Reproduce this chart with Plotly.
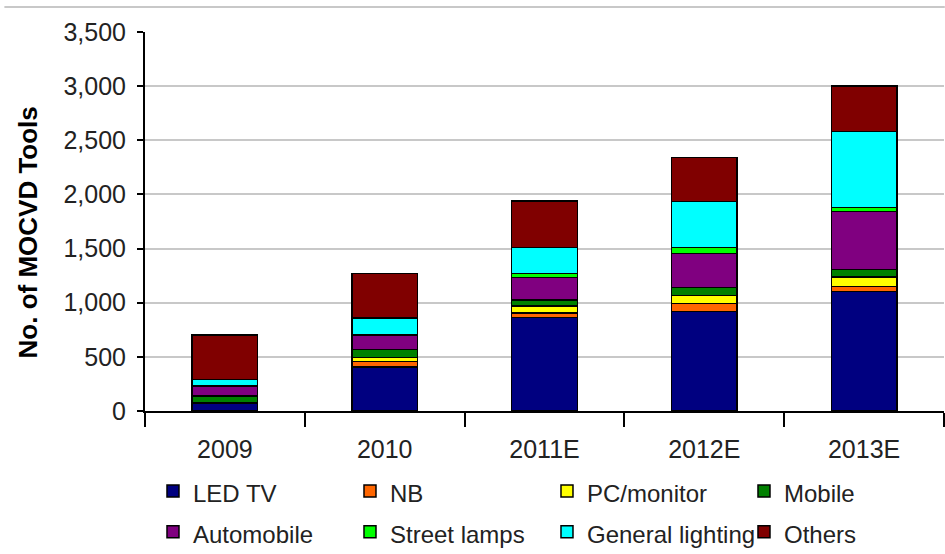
import plotly.graph_objects as go

categories = ["2009", "2010", "2011E", "2012E", "2013E"]

led_tv = [75, 405, 865, 920, 1105]
nb = [0, 50, 40, 74, 43]
pc_monitor = [0, 40, 67, 71, 89]
mobile = [65, 75, 53, 77, 71]
automobile = [90, 130, 209, 314, 536]
street_lamps = [0, 0, 37, 55, 36]
general_lighting = [60, 160, 237, 422, 699]
others = [410, 410, 431, 409, 421]

series_names = ["LED TV", "NB", "PC/monitor", "Mobile",
                "Automobile", "Street lamps", "General lighting", "Others"]
series_values = [led_tv, nb, pc_monitor, mobile,
                 automobile, street_lamps, general_lighting, others]
series_colors = ["#000080", "#FF6600", "#FFFF00", "#008000",
                 "#800080", "#00FF00", "#00FFFF", "#800000"]

y_ticks = [0, 500, 1000, 1500, 2000, 2500, 3000, 3500]

FONT = "Liberation Sans"

fig = go.Figure()
for name, vals, col in zip(series_names, series_values, series_colors):
    fig.add_trace(go.Bar(
        x=categories, y=vals,
        name="<span style='font-size:24px'>" + name + "</span>",
        marker=dict(color=col, line=dict(color="#000000", width=1.5)),
    ))

fig.update_layout(
    barmode="stack",
    bargap=0.59,
    width=945, height=554,
    margin=dict(l=145, r=1, t=32, b=143, autoexpand=False),
    paper_bgcolor="white",
    plot_bgcolor="white",
    font=dict(family=FONT, size=24, color="#222222"),
    showlegend=True,
    legend=dict(
        orientation="h",
        traceorder="normal",
        x=0.01, xanchor="left",
        y=-0.144, yanchor="top",
        entrywidth=152, entrywidthmode="pixels",
        font=dict(family=FONT, size=29, color="#222222"),
        itemclick=False,
    ),
    xaxis=dict(
        type="category",
        showline=True, linecolor="#000000", linewidth=1.5,
        ticks="outside", tickson="boundaries", ticklen=14,
        tickcolor="#000000", tickwidth=1.5,
        showgrid=False,
        automargin=False,
        tickfont=dict(family=FONT, size=25, color="#222222"),
        ticklabelstandoff=15,
    ),
    yaxis=dict(
        range=[0, 3500],
        tickvals=y_ticks,
        tickformat=",d",
        showline=True, linecolor="#000000", linewidth=2,
        ticks="outside", ticklen=6, tickcolor="#000000", tickwidth=1.5,
        showgrid=True, gridcolor="#C8C8C8", gridwidth=2,
        zeroline=False,
        automargin=False,
        tickfont=dict(family=FONT, size=25, color="#222222"),
        ticklabelstandoff=6,
        title=dict(text="<b>No. of MOCVD Tools\u00a0\u00a0\u00a0</b>",
                   font=dict(family=FONT, size=26, color="#000000"),
                   standoff=18),
    ),
    shapes=[dict(type="line", xref="paper", yref="paper",
                 x0=-0.176, x1=1.001, y0=(554 - 143 - 7) / 379, y1=(554 - 143 - 7) / 379,
                 line=dict(color="#C8C8C8", width=2))],
)

fig.write_html("out.html", config={"displayModeBar": False},
               post_script="document.body.style.margin='0';")
